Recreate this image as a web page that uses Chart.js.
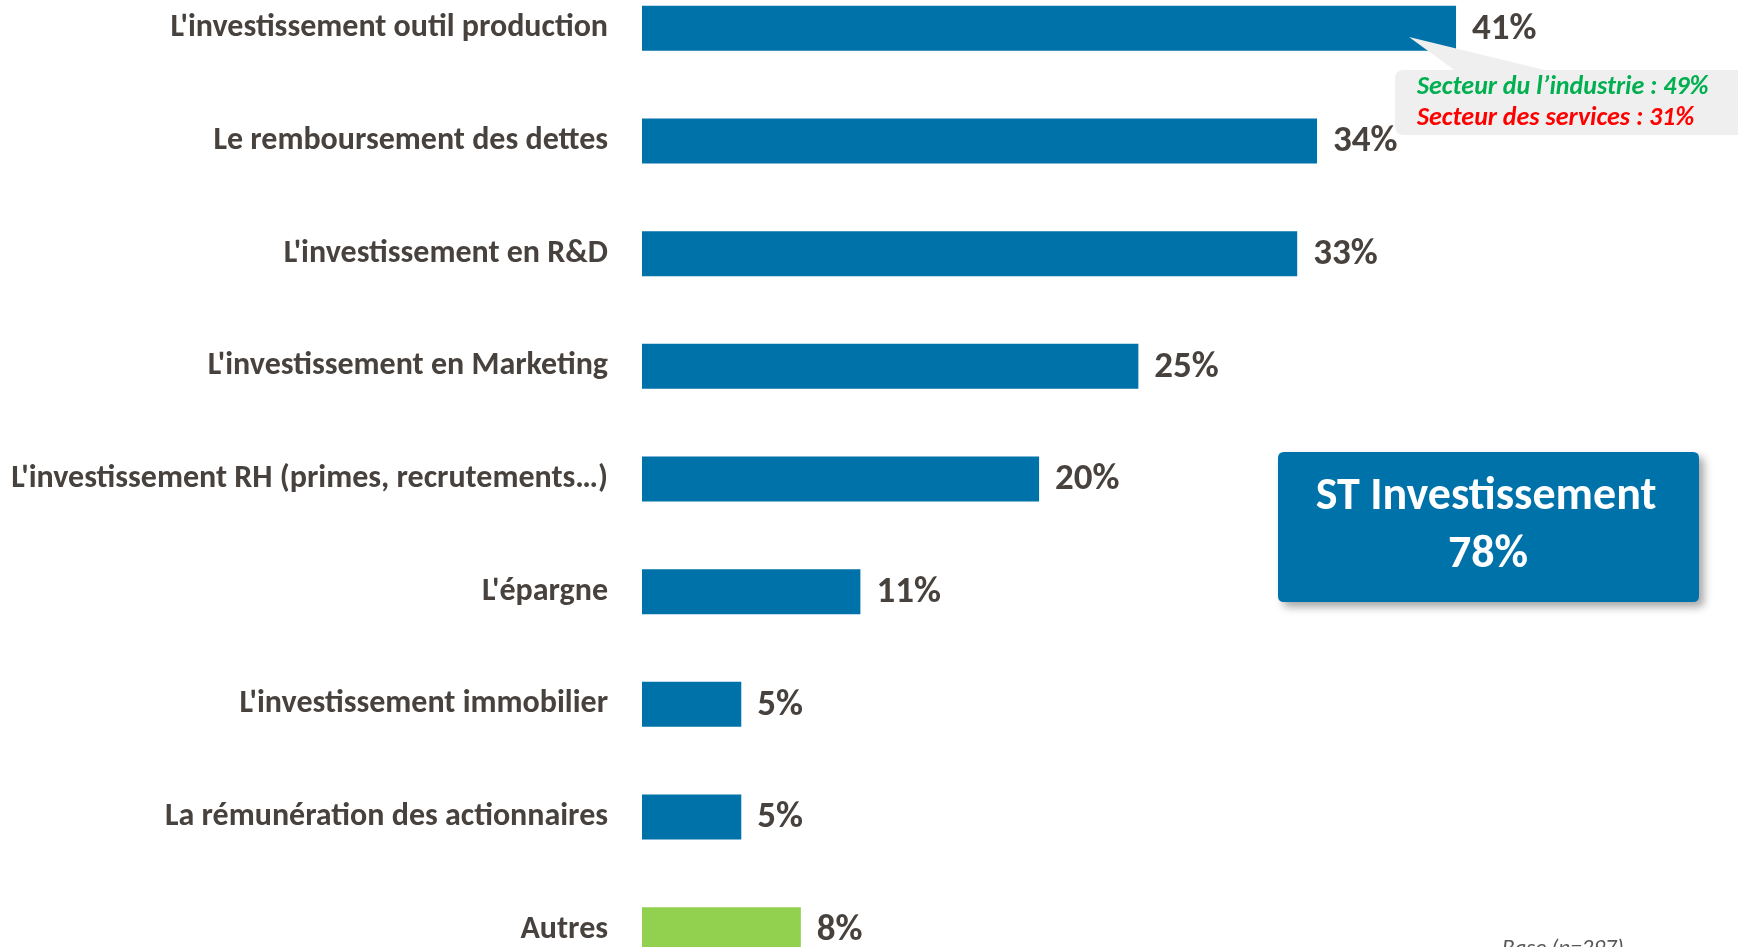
<!DOCTYPE html>
<html>
<head>
<meta charset="utf-8">
<script src="https://cdn.jsdelivr.net/npm/chart.js@4.4.0/dist/chart.umd.min.js"></script>
<style>
  html, body { margin: 0; padding: 0; background: #fff; overflow: hidden; width: 1738px; height: 947px; }
  #wrap { position: absolute; left: 0; top: -28px; width: 1738px; height: 1014px; }
</style>
</head>
<body>
<div id="wrap"><canvas id="chart"></canvas></div>
<script>
const categories = [
  "L'investissement outil production",
  "Le remboursement des dettes",
  "L'investissement en R&D",
  "L'investissement en Marketing",
  "L'investissement RH (primes, recrutements…)",
  "L'épargne",
  "L'investissement immobilier",
  "La rémunération des actionnaires",
  "Autres"
];
const values = [41, 34, 33, 25, 20, 11, 5, 5, 8];
const sectorNotes = ["Secteur du l’industrie : 49%", "Secteur des services : 31%"];
const summaryLabel = "ST Investissement";
const summaryValue = "78%";
const baseNote = "Base (n=297)";

const FONT = "Carlito, Lato, 'Open Sans', sans-serif";
const TEXT = '#48423e';
const BLUE = '#0072aa';
const GREEN = '#92d050';
const OFF = 28; // canvas sits 28px above the page top

function roundRect(ctx, x, y, w, h, r) {
  ctx.beginPath();
  ctx.moveTo(x + r, y);
  ctx.lineTo(x + w - r, y);
  ctx.quadraticCurveTo(x + w, y, x + w, y + r);
  ctx.lineTo(x + w, y + h - r);
  ctx.quadraticCurveTo(x + w, y + h, x + w - r, y + h);
  ctx.lineTo(x + r, y + h);
  ctx.quadraticCurveTo(x, y + h, x, y + h - r);
  ctx.lineTo(x, y + r);
  ctx.quadraticCurveTo(x, y, x + r, y);
  ctx.closePath();
}

const extras = {
  id: 'extras',
  afterDatasetsDraw(chart) {
    const ctx = chart.ctx;
    const bars = chart.getDatasetMeta(0).data;
    ctx.save();

    // value labels
    ctx.fillStyle = TEXT;
    ctx.font = "bold 37px " + FONT;
    ctx.textBaseline = 'middle';
    ctx.textAlign = 'left';
    bars.forEach((b, i) => {
      ctx.fillText(values[i] + '%', b.x + 16, b.y + 1);
    });

    // callout for first bar
    ctx.fillStyle = '#efefef';
    roundRect(ctx, 1395, 70 + OFF, 360, 65, 9);
    ctx.fill();
    ctx.beginPath();
    ctx.moveTo(1409, 37 + OFF);
    ctx.lineTo(1457, 72 + OFF);
    ctx.lineTo(1553, 72 + OFF);
    ctx.closePath();
    ctx.fill();

    ctx.font = "italic bold 26px " + FONT;
    ctx.textBaseline = 'alphabetic';
    ctx.fillStyle = '#00b050';
    ctx.fillText(sectorNotes[0], 1417, 94 + OFF);
    ctx.fillStyle = '#ff0000';
    ctx.fillText(sectorNotes[1], 1417, 125 + OFF);

    // summary box
    ctx.save();
    ctx.shadowColor = 'rgba(0,0,0,0.35)';
    ctx.shadowBlur = 8;
    ctx.shadowOffsetX = 5;
    ctx.shadowOffsetY = 5;
    ctx.fillStyle = BLUE;
    roundRect(ctx, 1278, 452 + OFF, 421, 150, 6);
    ctx.fill();
    ctx.restore();

    ctx.fillStyle = '#ffffff';
    ctx.textAlign = 'center';
    ctx.textBaseline = 'middle';
    ctx.font = "bold 46px " + FONT;
    ctx.fillText(summaryLabel, 1486, 497 + OFF);
    ctx.fillText(summaryValue, 1488, 555 + OFF);

    // base note
    ctx.fillStyle = '#595959';
    ctx.textAlign = 'left';
    ctx.textBaseline = 'alphabetic';
    ctx.font = "italic 23px " + FONT;
    ctx.fillText(baseNote, 1502, 955 + OFF);

    ctx.restore();
  }
};

new Chart(document.getElementById('chart'), {
  type: 'bar',
  data: {
    labels: categories,
    datasets: [{
      data: values,
      backgroundColor: values.map((v, i) => i === values.length - 1 ? GREEN : BLUE),
      barPercentage: 0.4,
      categoryPercentage: 1
    }]
  },
  options: {
    indexAxis: 'y',
    responsive: true,
    maintainAspectRatio: false,
    animation: false,
    layout: { padding: { left: 0, right: 4, top: 0, bottom: 0 } },
    plugins: { legend: { display: false }, tooltip: { enabled: false } },
    scales: {
      x: { display: false, min: 0, max: 55 },
      y: {
        grid: { display: false },
        border: { display: false },
        afterFit(scale) {
          scale.width = 642;
          scale.paddingTop = 0;
          scale.paddingBottom = 0;
        },
        ticks: {
          padding: 26,
          color: TEXT,
          font: { family: FONT, size: 32, weight: 'bold' }
        }
      }
    }
  },
  plugins: [extras]
});
</script>
</body>
</html>
